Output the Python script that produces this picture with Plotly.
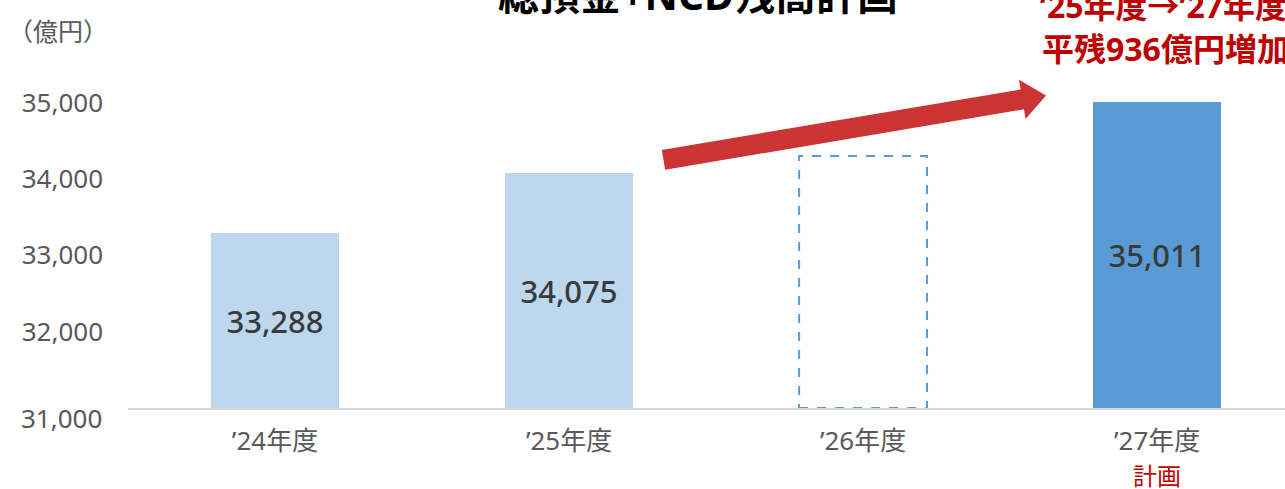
import plotly.graph_objects as go

categories = ["’24年度", "’25年度", "’26年度", "’27年度"]
values = [33288, 34075, None, 35011]
plan_26 = 34300
axis_min = 31000
bar_colors = ["#BDD7EE", "#BDD7EE", "rgba(0,0,0,0)", "#5B9BD5"]
ytick_vals = [32000, 33000, 34000, 35000]
ytick_text = ["32,000", "33,000", "34,000", "35,000"]

W, H = 1285, 489
ML, MR, MT, MB = 128, 0, 25.5, 81
FONT = "Noto Sans, Noto Sans CJK JP"
BW = 0.435

def pxx(p):
    return (p - ML) / (W - ML - MR)

def pxy(p):
    return (H - MB - p) / (H - MT - MB)

fig = go.Figure()
fig.add_trace(go.Bar(
    x=categories,
    y=[(v - axis_min) if v else None for v in values],
    base=axis_min, width=BW,
    marker=dict(color=bar_colors, line=dict(width=0)),
    text=[f"{v:,}" if v else "" for v in values],
    textposition="inside", insidetextanchor="middle",
    textfont=dict(family=FONT, size=31, color="#3A3A3A", weight=500),
    hoverinfo="skip",
))

# dashed outline for '26
fig.add_shape(type="rect", xref="x", yref="y",
              x0=2 - BW / 2, x1=2 + BW / 2, y0=axis_min, y1=plan_26,
              line=dict(color="#5B9BD5", width=2, dash="dash"),
              fillcolor="rgba(0,0,0,0)", layer="below")

# big red arrow (decoration)
arrow_px = [(661.8, 149.6), (1020.6, 89.1), (1019.0, 79.3), (1046, 95),
            (1025.6, 118.7), (1024.0, 108.9), (665.2, 169.4)]
path = "M " + " L ".join(f"{pxx(a):.5f},{pxy(b):.5f}" for a, b in arrow_px) + " Z"
fig.add_shape(type="path", xref="paper", yref="paper", path=path,
              fillcolor="#CC3333", line=dict(width=0), layer="above")

ann = []
ann.append(dict(text="<b>総預金+NCD残高計画</b>", x=pxx(698), y=pxy(-7),
                xref="paper", yref="paper", xanchor="center", yanchor="middle",
                showarrow=False, font=dict(family=FONT, size=41, color="#000000")))
ann.append(dict(text="<b>’25年度→’27年度</b>", x=pxx(1289), y=pxy(5),
                xref="paper", yref="paper", xanchor="right", yanchor="middle",
                showarrow=False, font=dict(family=FONT, size=32, color="#C00000")))
ann.append(dict(text="<b>平残936億円増加</b>", x=pxx(1291), y=pxy(48),
                xref="paper", yref="paper", xanchor="right", yanchor="middle",
                showarrow=False, font=dict(family=FONT, size=32, color="#C00000")))
ann.append(dict(text="（億円）", x=pxx(6), y=pxy(31),
                xref="paper", yref="paper", xanchor="left", yanchor="middle",
                showarrow=False, font=dict(family=FONT, size=25, color="#595959")))
ann.append(dict(text="計画", x=categories[3], y=pxy(476),
                xref="x", yref="paper", xanchor="center", yanchor="middle",
                showarrow=False, font=dict(family=FONT, size=24, color="#C00000")))
ann.append(dict(text="31,000", x=pxx(104), y=axis_min, yshift=-10,
                xref="paper", yref="y", xanchor="right", yanchor="middle",
                showarrow=False, font=dict(family=FONT, size=26, color="#595959")))

fig.update_layout(
    width=W, height=H,
    margin=dict(l=ML, r=MR, t=MT, b=MB, pad=0),
    plot_bgcolor="white", paper_bgcolor="white",
    showlegend=False, bargap=0,
    annotations=ann,
    font=dict(family=FONT),
)
fig.update_xaxes(
    type="category", categoryarray=categories, range=[-0.5, 3.435],
    showline=True, linecolor="#D9D9D9", linewidth=2, showgrid=False,
    ticks="", ticklabelstandoff=9,
    tickfont=dict(family=FONT, size=26, color="#595959"), fixedrange=True,
)
fig.update_yaxes(
    range=[axis_min, 36000], tickvals=ytick_vals, ticktext=ytick_text,
    showgrid=False, zeroline=False, showline=False, ticks="",
    ticklabelstandoff=24,
    tickfont=dict(family=FONT, size=26, color="#595959"), fixedrange=True,
)

fig.write_html("out.html")
